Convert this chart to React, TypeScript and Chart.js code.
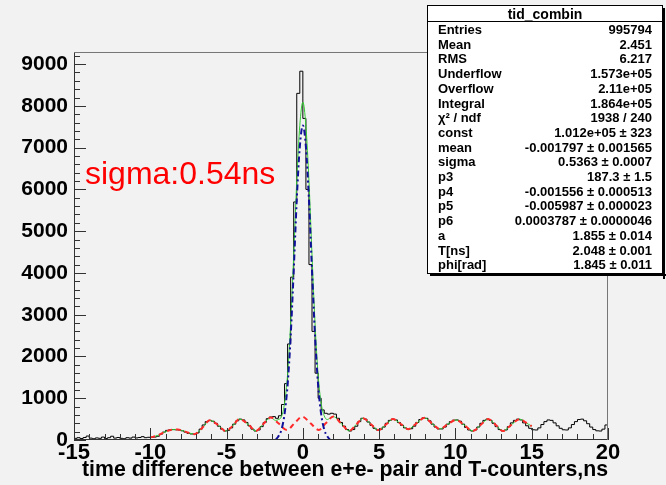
import React, { useEffect, useRef } from "react";
import { Chart, registerables } from "chart.js";

Chart.register(...registerables);

// ---- axis ranges / ticks ----
const X_MIN = -15;
const X_MAX = 20;
const BIN_WIDTH = 0.2;
const Y_MIN = 0;
const Y_MAX = 9290;
const xTickValues = [-15, -10, -5, 0, 5, 10, 15, 20];
const yTickValues = [0, 1000, 2000, 3000, 4000, 5000, 6000, 7000, 8000, 9000];
const xMinorStep = 1;
const yMinorStep = 200;

// ---- histogram counts (bins of 0.2 ns from -15 to 20) ----
const histCounts = [
  40, 55, 35, 60, 95, 45, 30, 50, 40, 70, // -15..-13
  35, 55, 90, 45, 60, 40, 30, 55, 45, 70, // -13..-11
  50, 60, 80, 55, 65, 60, 70, 90, 140, 190, // -11..-9
  230, 245, 250, 245, 240, 220, 190, 160, 145, 140, // -9..-7
  170, 260, 360, 440, 470, 450, 400, 330, 260, 215, // -7..-5
  230, 290, 380, 460, 500, 480, 420, 340, 260, 215, // -5..-3
  240, 320, 420, 510, 550, 560, 520, 580, 850, 1350, // -3..-1
  2300, 3900, 5700, 8300, 8830, 7700, 6000, 4200, 2600, 1600, // -1..1
  1000, 720, 640, 620, 640, 620, 520, 420, 330, 250, // 1..3
  215, 250, 330, 440, 520, 500, 430, 350, 280, 240, // 3..5
  250, 310, 400, 470, 500, 480, 420, 350, 290, 260, // 5..7
  270, 330, 420, 490, 530, 520, 460, 380, 310, 265, // 7..9
  265, 310, 380, 440, 475, 480, 450, 380, 300, 240, // 9..11
  215, 240, 310, 400, 470, 500, 470, 400, 320, 250, // 11..13
  215, 240, 320, 410, 470, 500, 480, 410, 340, 280, // 13..15
  245, 240, 290, 370, 440, 480, 470, 410, 340, 280, // 15..17
  245, 240, 290, 370, 440, 490, 500, 460, 390, 310, // 17..19
  250, 220, 215, 260, 360, // 19..20
];

// ---- background fit (red dashed) ----
const bgX = [
  -10, -9.5, -9.0, -8.6, -8.2, -7.7, -7.1, -6.6, -6.1, -5.6, -5.05, -4.6, -4.15,
  -3.6, -3.07, -2.6, -2.1, -1.6, -1.05, -0.55, -0.05, 0.5, 1.05, 1.5, 2.0, 2.5,
  3.05, 3.5, 3.95, 4.45, 4.95, 5.45, 5.9, 6.4, 6.9, 7.45, 7.98, 8.45, 8.97, 9.5,
  10.05, 10.6, 11.15, 11.65, 12.14, 12.65, 13.1, 13.65, 14.2, 14.6, 15.0,
];
const bgY = [
  60, 110, 200, 245, 250, 200, 140, 290, 470, 370, 215, 340, 500,
  380, 215, 380, 540, 400, 240, 400, 560, 400, 240, 400, 560, 400,
  220, 370, 520, 380, 240, 370, 500, 390, 260, 400, 530, 400, 265, 380,
  480, 350, 215, 360, 500, 360, 216, 360, 500, 420, 330,
];

// ---- gaussian fit (blue dash-dot) ----
const gausX = [-1.8, -1.6, -1.4, -1.2, -1.0, -0.8, -0.6, -0.4, -0.2, 0, 0.2, 0.4, 0.6, 0.8, 1.0, 1.2, 1.4, 1.6, 1.8];
const gausY = [0, 90, 250, 620, 1320, 2480, 4050, 5750, 7020, 7530, 7020, 5750, 4050, 2480, 1320, 620, 250, 90, 0];

// ---- total fit near the peak (green) ----
const totalPeakX = [-1.8, -1.6, -1.4, -1.2, -1.0, -0.8, -0.6, -0.4, -0.2, 0, 0.2, 0.4, 0.6, 0.8, 1.0, 1.2, 1.4, 1.6, 1.8];
const totalPeakY = [470, 490, 560, 880, 1570, 2800, 4420, 6200, 7530, 8090, 7520, 6200, 4430, 2780, 1560, 880, 580, 490, 530];

// ---- texts ----
const statsTitle = "tid_combin";
const statsLabels = [
  "Entries", "Mean", "RMS", "Underflow", "Overflow", "Integral", "χ² / ndf",
  "const", "mean", "sigma", "p3", "p4", "p5", "p6", "a", "T[ns]", "phi[rad]",
];
const statsValues = [
  "995794", "2.451", "6.217", "1.573e+05", "2.11e+05", "1.864e+05", "1938 / 240",
  "1.012e+05 ± 323", "-0.001797 ± 0.001565", "0.5363 ± 0.0007", "187.3 ± 1.5",
  "-0.001556 ± 0.000513", "-0.005987 ± 0.000023", "0.0003787 ± 0.0000046",
  "1.855 ± 0.014", "2.048 ± 0.001", "1.845 ± 0.011",
];
const annotationText = "sigma:0.54ns";
const xAxisTitle = "time difference between e+e- pair and T-counters,ns";

const FONT = "'Liberation Sans', Arial, sans-serif";

const decorPlugin = {
  id: "rootDecor",
  beforeDraw(chart: any) {
    const ctx = chart.ctx;
    ctx.save();
    ctx.fillStyle = "#f2f2f2";
    ctx.fillRect(0, 0, chart.width, chart.height);
    ctx.restore();
  },
  afterDraw(chart: any) {
    const ctx = chart.ctx;
    const xs = chart.scales.x;
    const ys = chart.scales.y;
    const { left, right, top, bottom } = chart.chartArea;
    ctx.save();
    // frame
    ctx.lineWidth = 1;
    ctx.strokeStyle = "#777";
    ctx.beginPath();
    ctx.moveTo(left + 0.5, top + 0.5);
    ctx.lineTo(right - 0.5, top + 0.5);
    ctx.lineTo(right - 0.5, bottom - 0.5);
    ctx.stroke();
    ctx.strokeStyle = "#333";
    ctx.beginPath();
    ctx.moveTo(left + 0.5, top + 0.5);
    ctx.lineTo(left + 0.5, bottom - 0.5);
    ctx.lineTo(right - 0.5, bottom - 0.5);
    ctx.stroke();
    // ticks
    ctx.beginPath();
    for (let v = X_MIN; v <= X_MAX + 1e-9; v += xMinorStep) {
      const px = Math.round(xs.getPixelForValue(v)) + 0.5;
      const major = xTickValues.includes(Math.round(v));
      ctx.moveTo(px, bottom);
      ctx.lineTo(px, bottom - (major ? 12 : 6));
    }
    for (let v = Y_MIN; v <= Y_MAX; v += yMinorStep) {
      const py = Math.round(ys.getPixelForValue(v)) + 0.5;
      const major = yTickValues.includes(v);
      ctx.moveTo(left, py);
      ctx.lineTo(left + (major ? 12 : 6), py);
    }
    ctx.stroke();

    // x axis title
    ctx.fillStyle = "#000";
    ctx.font = `bold 21.3px ${FONT}`;
    ctx.textAlign = "right";
    ctx.textBaseline = "alphabetic";
    ctx.fillText(xAxisTitle, right, 476);

    // annotation
    ctx.fillStyle = "#ff0000";
    ctx.font = `32px ${FONT}`;
    ctx.textAlign = "left";
    ctx.fillText(annotationText, 85, 184);

    // stats box
    const bx = 427, by = 5, bw = 236, bh = 269;
    ctx.fillStyle = "#000";
    ctx.fillRect(bx + 3, by + bh, bw, 2);
    ctx.fillRect(bx + bw, by + 3, 2, bh + 2);
    ctx.fillStyle = "#ffffff";
    ctx.fillRect(bx, by, bw, bh);
    ctx.strokeStyle = "#000";
    ctx.strokeRect(bx + 0.5, by + 0.5, bw - 1, bh - 1);
    ctx.beginPath();
    ctx.moveTo(bx, 21.5);
    ctx.lineTo(bx + bw, 21.5);
    ctx.stroke();
    ctx.fillStyle = "#000";
    ctx.font = `bold 14px ${FONT}`;
    ctx.textAlign = "center";
    ctx.fillText(statsTitle, bx + bw / 2, 19);
    ctx.font = `bold 13px ${FONT}`;
    for (let i = 0; i < statsLabels.length; i++) {
      const yb = 34 + i * 14.7;
      ctx.textAlign = "left";
      ctx.fillText(statsLabels[i], 438, yb);
      ctx.textAlign = "right";
      ctx.fillText(statsValues[i], 652, yb);
    }
    ctx.restore();
  },
};

export default function App() {
  const ref = useRef<HTMLCanvasElement | null>(null);
  useEffect(() => {
    if (!ref.current) return;
    const hist = histCounts.map((v, i) => ({ x: X_MIN + i * BIN_WIDTH, y: v }));
    hist.push({ x: X_MAX, y: histCounts[histCounts.length - 1] });
    const bg = bgX.map((x, i) => ({ x, y: bgY[i] }));
    const gaus = gausX.map((x, i) => ({ x, y: gausY[i] }));
    const lo = totalPeakX[0];
    const hi = totalPeakX[totalPeakX.length - 1];
    const total = [
      ...bg.filter((p) => p.x < lo),
      ...totalPeakX.map((x, i) => ({ x, y: totalPeakY[i] })),
      ...bg.filter((p) => p.x > hi),
    ];
    const chart = new Chart(ref.current, {
      type: "line",
      data: {
        datasets: [
          {
            data: gaus,
            borderColor: "#10109a",
            borderWidth: 2,
            borderDash: [6, 3, 2, 3],
            pointRadius: 0,
            cubicInterpolationMode: "monotone",
            order: 0,
          },
          {
            data: bg,
            borderColor: "#ff2a2a",
            borderWidth: 2,
            borderDash: [5, 4],
            pointRadius: 0,
            cubicInterpolationMode: "monotone",
            order: 1,
          },
          {
            data: total,
            borderColor: "#33cc33",
            borderWidth: 1,
            pointRadius: 0,
            cubicInterpolationMode: "monotone",
            order: 2,
          },
          {
            data: hist,
            borderColor: "#000000",
            borderWidth: 1,
            pointRadius: 0,
            stepped: "before",
            order: 3,
          },
        ],
      } as any,
      options: {
        animation: false,
        responsive: false,
        devicePixelRatio: 1,
        events: [],
        layout: { padding: { top: 52, right: 58, left: 0, bottom: 0 } },
        plugins: { legend: { display: false }, tooltip: { enabled: false } },
        scales: {
          x: {
            type: "linear",
            min: X_MIN,
            max: X_MAX,
            grid: { display: false, drawTicks: false },
            border: { display: false },
            afterBuildTicks: (s: any) => {
              s.ticks = xTickValues.map((v) => ({ value: v }));
            },
            afterFit: (s: any) => {
              s.height = 45;
            },
            ticks: {
              autoSkip: false,
              maxRotation: 0,
              padding: 0,
              color: "#000",
              font: { family: FONT, size: 22, weight: "bold" },
              callback: (v: any) => String(v),
            },
          },
          y: {
            type: "linear",
            min: Y_MIN,
            max: Y_MAX,
            grid: { display: false, drawTicks: false },
            border: { display: false },
            afterBuildTicks: (s: any) => {
              s.ticks = yTickValues.map((v) => ({ value: v }));
            },
            afterFit: (s: any) => {
              s.width = 74;
            },
            ticks: {
              autoSkip: false,
              padding: 6,
              color: "#000",
              font: { family: FONT, size: 21, weight: "bold" },
              callback: (v: any) => String(v),
            },
          },
        },
      } as any,
      plugins: [decorPlugin],
    });
    return () => chart.destroy();
  }, []);
  return (
    <div style={{ position: "absolute", left: 0, top: 0, width: 666, height: 485 }}>
      <canvas ref={ref} width={666} height={485} />
    </div>
  );
}
